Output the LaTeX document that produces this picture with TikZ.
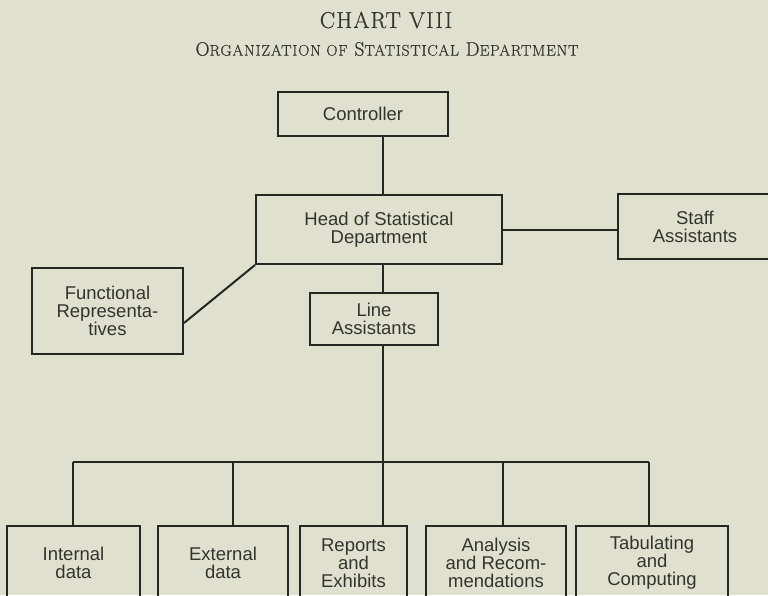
\documentclass[tikz,border=0pt]{standalone}
\usepackage{fontspec}
\usepackage{xcolor}
\usepackage{tikz}
\usetikzlibrary{positioning,calc}

\newfontfamily\boxfont{Liberation Sans}
\newfontfamily\titlefont[FakeBold=0.6,LetterSpace=5]{Latin Modern Roman}
\newcommand\lowcaps[1]{{\fontsize{15.5}{16}\selectfont #1}}
\definecolor{paper}{RGB}{224,224,206}
\definecolor{ink}{RGB}{38,38,34}
\definecolor{print}{RGB}{52,52,46}

\begin{document}
\begin{tikzpicture}[
    x=1pt, y=-1pt,
    unit/.style={draw=ink, line width=2pt, align=center, inner sep=0pt,
        text=print, font=\boxfont\fontsize{18.5}{18}\selectfont},
    edge/.style={draw=ink, line width=2pt},
    heading/.style={text=print, inner sep=0pt}
]
    \fill[paper] (0,0) rectangle (768,595);
    \clip (0,0) rectangle (768,595);

    \node[heading, font=\titlefont\fontsize{23}{23}\selectfont] (chart) at (386,20) {CHART VIII};
    \node[heading, font=\titlefont\fontsize{19.5}{20}\selectfont] (title) at (387,49)
        {O\lowcaps{RGANIZATION OF} S\lowcaps{TATISTICAL} D\lowcaps{EPARTMENT}};

    \node[unit, minimum width=170pt, minimum height=44pt] (ctrl) at (363,114) {Controller};
    \node[unit, minimum width=246pt, minimum height=69pt] (head) at (379,229.5)
        {Head of Statistical\\Department};
    \node[unit, minimum width=154pt, minimum height=65pt] (staff) at (695,226.5)
        {Staff\\Assistants};
    \node[unit, minimum width=151pt, minimum height=86pt] (func) at (107.5,311)
        {Functional\\Representa-\\tives};
    \node[unit, minimum width=128pt, minimum height=52pt] (line) at (374,319)
        {Line\\Assistants};

    \node[unit, minimum width=133pt, minimum height=74pt] (intl) at (73.5,563) {Internal\\data};
    \node[unit, minimum width=130pt, minimum height=74pt] (extl) at (223,563) {External\\data};
    \node[unit, minimum width=107pt, minimum height=74pt] (rept) at (353.5,563)
        {Reports\\and\\Exhibits};
    \node[unit, minimum width=140pt, minimum height=74pt] (anal) at (496,563)
        {Analysis\\and Recom-\\mendations};
    \node[unit, minimum width=152pt, minimum height=74pt] (tabu) at (652,563)
        {Tabulating\\and\\Computing};

    \coordinate (trunk) at (383,462);
    \coordinate (busL) at (73,462);
    \coordinate (busR) at (649,462);

    \draw[edge] (ctrl.south -| trunk) -- (head.north -| trunk);
    \draw[edge] (head.east) -- (head.east -| staff.west);
    \draw[edge] (head.south west) -- ([yshift=-12pt]func.east);
    \draw[edge] (head.south -| trunk) -- (line.north -| trunk);
    \draw[edge] (line.south -| trunk) -- (trunk);
    \draw[edge] (busL) -- (busR);

    \foreach \unitname/\xpos in {intl/73, extl/233, rept/383, anal/503, tabu/649} {
        \coordinate (drop) at (\xpos,462);
        \draw[edge] (drop) -- (drop |- \unitname.north);
    }
\end{tikzpicture}
\end{document}
